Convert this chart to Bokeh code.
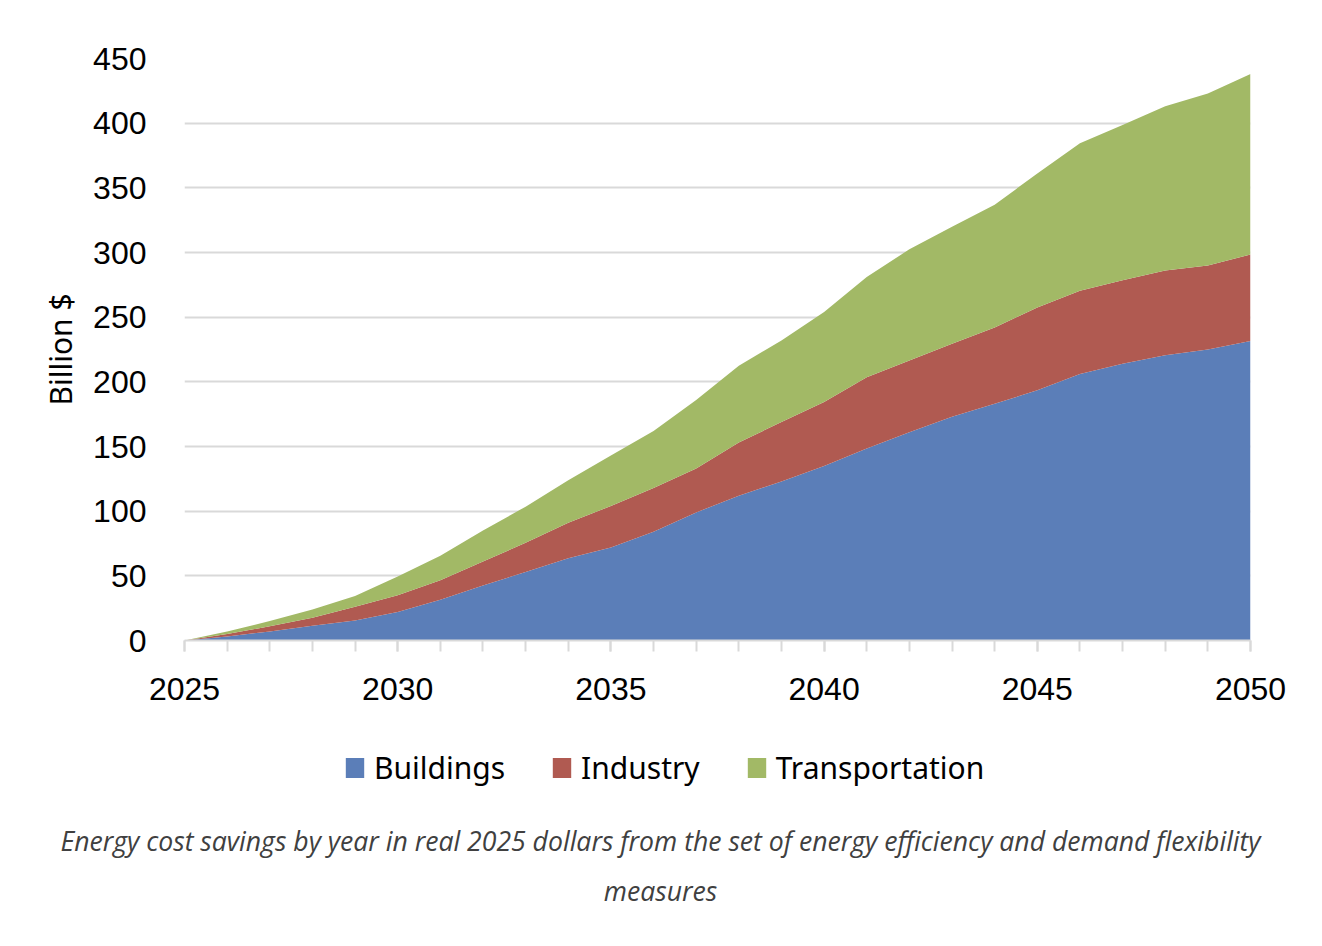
from bokeh.plotting import figure
from bokeh.models import ColumnDataSource, Range1d, FixedTicker, Legend, LegendItem, Div
from bokeh.layouts import column
from bokeh.embed import file_html
from bokeh.resources import INLINE

years = list(range(2025, 2051))
buildings = [0, 3, 7, 11.5, 15.5, 22, 31.5, 42.5, 53, 63.5, 72, 84, 99, 112, 123, 135,
             148.5, 161, 173, 183, 193.5, 206, 214, 220.5, 225, 231.5]
industry = [0, 2, 4, 6, 10.5, 13, 15, 18.5, 22.5, 27.5, 32, 34, 34, 41, 46, 49.5,
            55, 55.5, 56.5, 59, 64, 64.5, 64.5, 65.5, 65, 67]
transportation = [0, 2, 4, 6.5, 8.5, 14.5, 19, 24, 28, 33, 39, 44, 53, 59.5, 63, 69.5,
                  77.5, 86, 90.5, 95, 103.5, 114, 120, 127, 133, 139.5]
series_names = ["Buildings", "Industry", "Transportation"]
colors = ["#5B7EB8", "#B05A51", "#A2B966"]
y_ticks = [0, 50, 100, 150, 200, 250, 300, 350, 400, 450]
x_major = [2025, 2030, 2035, 2040, 2045, 2050]
caption_line1 = "Energy cost savings by year in real 2025 dollars from the set of energy efficiency and demand flexibility"
caption_line2 = "measures"

source = ColumnDataSource(dict(year=years, Buildings=buildings, Industry=industry,
                               Transportation=transportation))

p = figure(width=1306, height=720, output_backend="svg", toolbar_location=None,
           x_range=Range1d(2025, 2050), y_range=Range1d(0, 450),
           min_border_left=184, min_border_right=56, min_border_top=58, min_border_bottom=80)

renderers = p.varea_stack(stackers=series_names, x="year", color=colors, source=source)

p.outline_line_color = None
p.xgrid.grid_line_color = None
p.ygrid.grid_line_color = "#D9D9D9"
p.ygrid.grid_line_width = 2
p.ygrid.ticker = FixedTicker(ticks=y_ticks)

# x axis
p.xaxis.ticker = FixedTicker(ticks=x_major, minor_ticks=years)
p.xaxis.axis_line_color = "#D9D9D9"
p.xaxis.axis_line_width = 2
p.xaxis.major_tick_line_color = "#D9D9D9"
p.xaxis.major_tick_line_width = 2
p.xaxis.minor_tick_line_color = "#D9D9D9"
p.xaxis.minor_tick_line_width = 2
p.xaxis.major_tick_in = 0
p.xaxis.major_tick_out = 11
p.xaxis.minor_tick_in = 0
p.xaxis.minor_tick_out = 11
p.xaxis.major_label_standoff = 26
p.xaxis.major_label_text_font = "Liberation Sans"
p.xaxis.major_label_text_font_size = "32px"
p.xaxis.major_label_text_color = "#000000"

# y axis
p.yaxis.ticker = FixedTicker(ticks=y_ticks)
p.yaxis.axis_line_color = None
p.yaxis.major_tick_line_color = None
p.yaxis.minor_tick_line_color = None
p.yaxis.major_tick_out = 0
p.yaxis.major_label_standoff = 38
p.yaxis.major_label_text_font = "Liberation Sans"
p.yaxis.major_label_text_font_size = "32px"
p.yaxis.major_label_text_color = "#000000"
p.yaxis.axis_label = "Billion $"
p.yaxis.axis_label_text_font = "Noto Sans"
p.yaxis.axis_label_text_font_style = "normal"
p.yaxis.axis_label_text_font_size = "30px"
p.yaxis.axis_label_text_color = "#000000"
p.yaxis.axis_label_standoff = 9

# legend strip below the chart (same series styling; proxies have zero area)
lg = figure(width=1306, height=90, output_backend="svg", toolbar_location=None,
            x_range=Range1d(0, 1), y_range=Range1d(0, 1),
            x_axis_location=None, y_axis_location=None,
            min_border=0)
lg.outline_line_color = None
lg.xgrid.visible = False
lg.ygrid.visible = False
proxies = [lg.varea(x=[0, 0], y1=[0, 0], y2=[0, 0], color=c) for c in colors]
legend = Legend(items=[LegendItem(label=n, renderers=[r]) for n, r in zip(series_names, proxies)],
                location=(159, 22), orientation="horizontal",
                border_line_color=None, background_fill_alpha=0,
                padding=0, margin=0, spacing=45, label_standoff=8,
                glyph_width=23, glyph_height=25,
                label_text_font="Noto Sans", label_text_font_size="30px",
                label_text_color="#000000")
lg.add_layout(legend, "center")

caption = Div(width=1306, text=(
    '<div style="width:1306px;padding-left:5px;text-align:center;font-family:\'Open Sans\';'
    'font-style:italic;font-size:26.6px;line-height:50px;color:#404040;margin-top:1px;">'
    + caption_line1 + '<br>' + caption_line2 + '</div>'))

layout = column(p, lg, caption, spacing=0)
open("out.html", "w").write(file_html(layout, INLINE))
